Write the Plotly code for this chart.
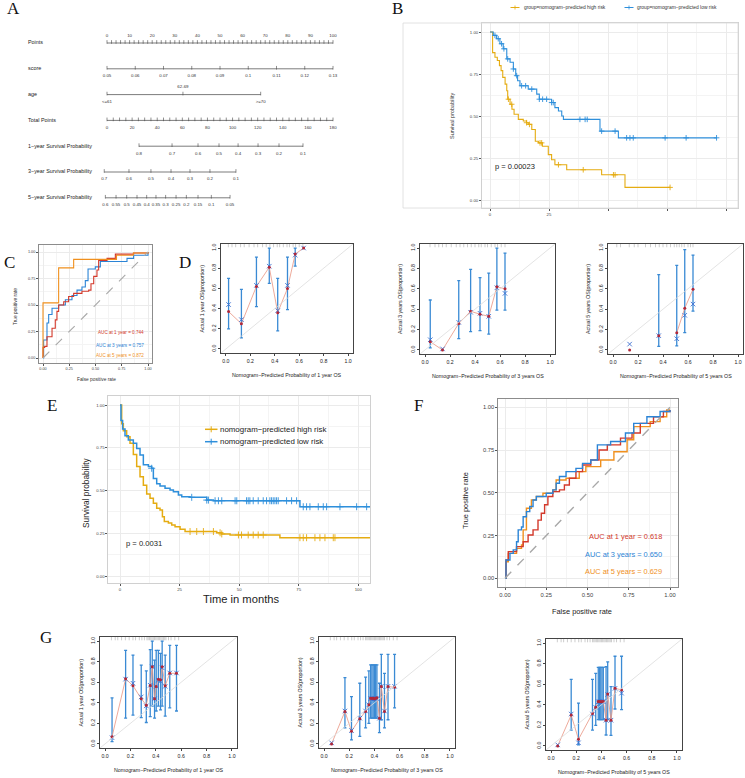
import plotly.graph_objects as go

W, H = 745, 778
FONT = "Liberation Sans, Arial, sans-serif"
SERIF = "Liberation Serif, Times New Roman, serif"
M = "\u2212"

# ====================== DATA ======================
# ---- A: nomogram scales (positions in Points / Total Points) ----
nomo_row_labels = ["Points", "score", "age", "Total Points",
                   "1" + M + "year Survival Probability",
                   "3" + M + "year Survival Probability",
                   "5" + M + "year Survival Probability"]
points_ticks = [0, 10, 20, 30, 40, 50, 60, 70, 80, 90, 100]
score_labels = ["0.05", "0.06", "0.07", "0.08", "0.09", "0.1", "0.11", "0.12", "0.13"]
score_points = [0, 12.5, 25, 37.5, 50, 62.5, 75, 87.5, 100]
age_labels = ["<=61", "62-69", ">=70"]
age_points = [0, 33.6, 68]
total_ticks = [0, 20, 40, 60, 80, 100, 120, 140, 160, 180]
surv1_labels = ["0.8", "0.7", "0.6", "0.5", "0.4", "0.3", "0.2", "0.1"]
surv1_total = [25.5, 51.8, 72.5, 89.2, 104.4, 120.3, 137.0, 156.1]
surv3_labels = ["0.7", "0.6", "0.5", "0.4", "0.3", "0.2", "0.1"]
surv3_total = [-2.2, 17.5, 35.0, 51.0, 66.1, 82.0, 102.7]
surv5_labels = ["0.6", "0.55", "0.5", "0.45", "0.4", "0.35", "0.3", "0.25", "0.2", "0.15", "0.1", "0.05"]
surv5_total = [-1.3, 7.2, 15.7, 23.9, 31.6, 39.0, 46.7, 55.0, 63.2, 72.5, 83.1, 98.0]

# ---- B: Kaplan-Meier (training) ----
b_high_t = [0, 1.1, 2.1, 3.1, 4.0, 4.7, 5.4, 6.4, 7.1, 7.5, 8.5, 9.3, 10.2, 12.0, 14.1, 15.5, 16.2,
            17.7, 19.2, 20.5, 22.2, 24.7, 26.1, 27.5, 32.5, 47.3, 57.2, 76.3]
b_high_s = [1.0, 0.877, 0.85, 0.83, 0.80, 0.77, 0.73, 0.69, 0.65, 0.60, 0.57, 0.54, 0.51, 0.48, 0.47,
            0.46, 0.45, 0.42, 0.35, 0.34, 0.32, 0.27, 0.24, 0.21, 0.18, 0.15, 0.075, 0.075]
b_high_cens = [7.8, 9.2, 15.5, 16.7, 21.2, 21.9, 29.0, 39.5, 52.3, 53.0, 76.3]
b_low_t = [0, 1.4, 2.8, 4.2, 5.6, 7.1, 8.5, 9.9, 10.9, 11.7, 12.7, 16.2, 19.8, 20.9, 26.1, 27.5,
           29.0, 30.4, 31.1, 46.6, 54.4, 96.0]
b_low_s = [1.0, 0.98, 0.96, 0.93, 0.90, 0.84, 0.82, 0.78, 0.74, 0.71, 0.68, 0.66, 0.63, 0.60, 0.58,
           0.55, 0.53, 0.50, 0.48, 0.41, 0.37, 0.37]
b_low_cens = [2.1, 3.5, 4.9, 5.9, 7.5, 9.9, 11.3, 13.4, 15.1, 17.7, 20.9, 22.3, 24.0, 26.1, 26.8,
              38.1, 40.3, 41.2, 47.3, 53.0, 57.9, 59.3, 60.7, 74.2, 83.1, 96.0]

# ---- C: time-dependent ROC (training) ----
c_fpr_1 = [0, 0, 0.016, 0.038, 0.086, 0.117, 0.133, 0.149, 0.197, 0.244, 0.292, 0.371, 0.435, 0.457,
           0.483, 0.514, 0.530, 0.610, 0.689, 0.863, 1.0]
c_tpr_1 = [0, 0.10, 0.11, 0.20, 0.28, 0.36, 0.44, 0.50, 0.53, 0.58, 0.61, 0.63, 0.64, 0.70, 0.77,
           0.83, 0.92, 0.94, 0.98, 0.99, 1.0]
c_fpr_3 = [0, 0.006, 0.038, 0.054, 0.086, 0.149, 0.213, 0.276, 0.324, 0.371, 0.403, 0.429, 0.498,
           0.546, 0.80, 0.863, 1.0]
c_tpr_3 = [0, 0.17, 0.33, 0.41, 0.47, 0.50, 0.55, 0.59, 0.64, 0.67, 0.73, 0.84, 0.86, 0.91, 0.94,
           0.97, 1.0]
c_fpr_5 = [0, 0, 0.149, 0.292, 0.70, 0.86, 1.0]
c_tpr_5 = [0, 0.52, 0.85, 0.93, 0.97, 0.99, 1.0]
c_auc_text = ["AUC at 1 year = 0.744", "AUC at 3 years = 0.757", "AUC at 5 years = 0.872"]

# ---- D: calibration (training) ----
d1_pred = [0.022, 0.127, 0.25, 0.355, 0.424, 0.504, 0.567, 0.636]
d1_obs = [0.37, 0.25, 0.62, 0.81, 0.36, 0.60, 0.94, 1.0]
d1_bc = [0.44, 0.29, 0.63, 0.82, 0.38, 0.63, 0.93, 1.0]
d1_lo = [0.20, 0.11, 0.42, 0.65, 0.18, 0.39, 0.82, None]
d1_hi = [0.70, 0.59, 0.91, 1.0, 0.70, 0.91, 1.0, None]
d1_rug = [0.02, 0.05, 0.08, 0.12, 0.15, 0.19, 0.23, 0.26, 0.30, 0.33, 0.36, 0.39, 0.42, 0.44,
          0.47, 0.50, 0.52, 0.55, 0.57, 0.60, 0.63]

d3_pred = [0.042, 0.14, 0.27, 0.365, 0.44, 0.51, 0.575, 0.64]
d3_obs = [0.08, 0.0, 0.26, 0.38, 0.35, 0.33, 0.62, 0.60]
d3_bc = [0.10, 0.01, 0.27, 0.37, 0.36, 0.33, 0.61, 0.555]
d3_lo = [0.02, None, 0.11, 0.18, 0.19, 0.155, 0.39, 0.39]
d3_hi = [0.49, None, 0.68, 0.79, 0.71, 0.755, 1.0, 0.95]
d3_rug = [0.04, 0.08, 0.11, 0.14, 0.17, 0.21, 0.25, 0.28, 0.31, 0.34, 0.37, 0.40, 0.43, 0.45,
          0.48, 0.50, 0.53, 0.56, 0.58, 0.61, 0.64]

d5_pred = [0.133, 0.366, 0.51, 0.574, 0.64]
d5_obs = [0.0, 0.14, 0.168, 0.41, 0.595]
d5_bc = [0.057, 0.14, 0.11, 0.34, 0.45]
d5_lo = [None, 0.035, 0.04, 0.17, 0.38]
d5_hi = [None, 0.74, 0.83, 0.985, 0.93]
d5_rug = [0.03, 0.06, 0.13, 0.17, 0.20, 0.26, 0.30, 0.34, 0.37, 0.40, 0.43, 0.46, 0.49, 0.51,
          0.53, 0.55, 0.57, 0.60, 0.62, 0.64]

# ---- E: Kaplan-Meier (validation) ----
e_high_t = [0, 0.7, 1.4, 2.8, 4.2, 5.6, 7.0, 8.4, 9.8, 11.2, 12.6, 14.0, 15.4, 16.8, 17.8, 18.6,
            20.3, 21.7, 23.1, 25.2, 27.3, 40.6, 42.7, 46.2, 67.1, 104.9]
e_high_s = [1.0, 0.89, 0.85, 0.815, 0.776, 0.71, 0.64, 0.58, 0.53, 0.48, 0.454, 0.425, 0.396, 0.386,
            0.347, 0.318, 0.31, 0.298, 0.288, 0.273, 0.26, 0.253, 0.246, 0.24, 0.224, 0.224]
e_high_cens = [29.4, 32.2, 35.0, 39.2, 42.0, 42.7, 49.7, 51.0, 53.8, 55.9, 58.0, 60.1, 75.5, 76.9,
               78.3, 81.8, 83.9, 86.0, 89.5, 90.2]
e_low_t = [0, 0.4, 1.1, 2.1, 3.5, 5.6, 7.0, 8.4, 9.8, 11.9, 13.3, 14.0, 15.4, 16.8, 18.9, 21.0,
           22.4, 24.5, 25.9, 29.4, 36.4, 39.2, 75.5, 104.9]
e_low_s = [1.0, 0.91, 0.86, 0.82, 0.795, 0.776, 0.746, 0.708, 0.65, 0.64, 0.63, 0.57, 0.54, 0.526,
           0.513, 0.503, 0.493, 0.474, 0.464, 0.46, 0.444, 0.44, 0.405, 0.405]
e_low_cens = [13.3, 30.1, 36.4, 37.1, 39.9, 41.3, 42.7, 48.3, 49.0, 53.1, 53.8, 54.5, 55.9, 58.0,
              60.1, 61.5, 62.9, 63.6, 64.3, 65.0, 65.7, 66.4, 69.9, 72.0, 74.1, 76.9, 78.3, 79.7,
              83.2, 85.3, 86.7, 92.3, 99.3, 103.5]

# ---- F: time-dependent ROC (validation) ----
f_fpr_1 = [0, 0.006, 0.02, 0.07, 0.11, 0.14, 0.17, 0.20, 0.22, 0.24, 0.26, 0.29, 0.33, 0.36, 0.39,
           0.43, 0.47, 0.52, 0.57, 0.62, 0.70, 0.77, 0.82, 0.90, 0.96, 1.0]
f_tpr_1 = [0, 0.107, 0.156, 0.185, 0.214, 0.253, 0.283, 0.34, 0.38, 0.43, 0.478, 0.507, 0.517, 0.546,
           0.585, 0.624, 0.663, 0.692, 0.75, 0.78, 0.82, 0.85, 0.906, 0.945, 0.975, 0.984]
f_fpr_3 = [0, 0.006, 0.03, 0.05, 0.07, 0.08, 0.10, 0.11, 0.13, 0.15, 0.17, 0.19, 0.25, 0.29, 0.31,
           0.33, 0.37, 0.43, 0.47, 0.52, 0.56, 0.64, 0.73, 0.78, 0.86, 0.94, 1.0]
f_tpr_3 = [0, 0.107, 0.146, 0.166, 0.214, 0.283, 0.30, 0.36, 0.39, 0.42, 0.458, 0.478, 0.497, 0.517,
           0.556, 0.595, 0.624, 0.643, 0.672, 0.692, 0.78, 0.80, 0.85, 0.906, 0.945, 0.975, 0.984]
f_fpr_5 = [0, 0.006, 0.02, 0.07, 0.10, 0.11, 0.13, 0.16, 0.19, 0.23, 0.29, 0.31, 0.37, 0.45, 0.49,
           0.58, 0.66, 0.74, 0.78, 0.88, 0.94, 0.98, 1.0]
f_tpr_5 = [0, 0.097, 0.146, 0.175, 0.195, 0.283, 0.41, 0.458, 0.478, 0.497, 0.517, 0.575, 0.585,
           0.624, 0.653, 0.692, 0.74, 0.81, 0.887, 0.916, 0.945, 0.984, 0.984]
f_auc_text = ["AUC at 1 year = 0.618", "AUC at 3 years = 0.650", "AUC at 5 years = 0.629"]

# ---- G: calibration (validation) ----
g1_pred = [0.055, 0.162, 0.22, 0.285, 0.325, 0.356, 0.372, 0.39, 0.403, 0.42, 0.437, 0.45, 0.474, 0.51, 0.563]
g1_obs = [0.07, 0.633, 0.566, 0.44, 0.377, 0.569, 0.75, 0.438, 0.559, 0.63, 0.623, 0.75, 0.566, 0.687, 0.687]
g1_bc = [0.06, 0.63, 0.59, 0.457, 0.37, 0.57, 0.75, 0.44, 0.56, 0.62, 0.61, 0.74, 0.56, 0.69, 0.69]
g1_lo = [0.022, 0.25, 0.28, 0.256, 0.208, 0.265, 0.367, 0.25, 0.32, 0.367, 0.33, 0.367, 0.27, 0.35, 0.32]
g1_hi = [0.447, 0.91, 0.863, 0.767, 0.71, 0.917, 1.0, 0.815, 0.91, 0.91, 0.88, 1.0, 0.863, 0.958, 0.958]
g1_rug = [0.05, 0.08, 0.10, 0.13, 0.16, 0.19, 0.22, 0.24, 0.27, 0.29, 0.31, 0.33, 0.34, 0.35, 0.36,
          0.37, 0.38, 0.39, 0.40, 0.41, 0.42, 0.43, 0.44, 0.45, 0.46, 0.47, 0.48, 0.50, 0.52, 0.55, 0.58]

g3_pred = [0.06, 0.166, 0.218, 0.284, 0.33, 0.356, 0.37, 0.38, 0.39, 0.40, 0.41, 0.42, 0.44, 0.455, 0.48, 0.508, 0.56]
g3_obs = [0.0, 0.316, 0.123, 0.245, 0.316, 0.38, 0.445, 0.445, 0.445, 0.44, 0.445, 0.45, 0.25, 0.558, 0.316, 0.558, 0.55]
g3_bc = [0.01, 0.32, 0.13, 0.25, 0.32, 0.38, 0.44, 0.44, 0.44, 0.44, 0.44, 0.44, 0.25, 0.56, 0.32, 0.56, 0.56]
g3_lo = [None, 0.155, 0.04, 0.074, 0.155, 0.2, 0.25, 0.25, 0.25, 0.25, 0.25, 0.25, 0.11, 0.235, 0.155, 0.235, 0.35]
g3_hi = [None, 0.645, 0.46, 0.59, 0.65, 0.71, 0.768, 0.768, 0.768, 0.768, 0.768, 0.768, 0.59, 0.87, 0.687, 0.87, 0.87]
g3_rug = g1_rug

g5_pred = [0.053, 0.16, 0.218, 0.329, 0.355, 0.375, 0.385, 0.395, 0.405, 0.415, 0.437, 0.45, 0.476, 0.508, 0.56]
g5_obs = [0.0, 0.30, 0.064, 0.314, 0.375, 0.433, 0.433, 0.43, 0.433, 0.433, 0.25, 0.506, 0.25, 0.56, 0.545]
g5_bc = [0.01, 0.31, 0.03, 0.31, 0.375, 0.43, 0.43, 0.43, 0.43, 0.43, 0.25, 0.50, 0.25, 0.56, 0.513]
g5_lo = [None, 0.154, 0.01, 0.154, 0.2, 0.256, 0.256, 0.256, 0.256, 0.256, 0.106, 0.256, 0.103, 0.359, 0.353]
g5_hi = [None, 0.647, 0.417, 0.647, 0.705, 0.763, 0.763, 0.763, 0.763, 0.763, 0.77, 0.817, 0.577, 0.872, 0.872]
g5_rug = g1_rug

# ====================== STYLE ======================
GOLD = "#E5AC12"
KMBLUE = "#2E8FDB"
ROC_RED = "#D3392B"
ROC_BLUE = "#2B84D6"
ROC_ORANGE = "#F0901E"
CAL_BLUE = "#3A8AD4"
CAL_RED = "#B0283A"
CAL_LINE = "#E89482"

fig = go.Figure()
axes = {}
shapes = []
annotations = []
counter = [0]


def P(xpx, ypx):
    return xpx / W, 1 - ypx / H


def new_axes(box, xr, yr, xs=None, ys=None):
    counter[0] += 1
    s = "" if counter[0] == 1 else str(counter[0])
    l, t, r, b = box
    xd = dict(domain=[l / W, r / W], range=xr, anchor="y" + s, zeroline=False, fixedrange=True)
    yd = dict(domain=[1 - b / H, 1 - t / H], range=yr, anchor="x" + s, zeroline=False, fixedrange=True)
    xd.update(xs or {})
    yd.update(ys or {})
    axes["xaxis" + s] = xd
    axes["yaxis" + s] = yd
    return "x" + s, "y" + s


def text(xpx, ypx, s, size, color="#222", xanchor="center", angle=0, family=FONT):
    x, y = P(xpx, ypx)
    annotations.append(dict(x=x, y=y, xref="paper", yref="paper", text=s, showarrow=False,
                            xanchor=xanchor, yanchor="middle", textangle=angle, borderpad=0,
                            font=dict(size=size, color=color, family=family)))


def hline(x0, y0, x1, y1, color, width=1, dash=None):
    a, b = P(x0, y0)
    c, d = P(x1, y1)
    ln = dict(color=color, width=width)
    if dash:
        ln["dash"] = dash
    shapes.append(dict(type="line", xref="paper", yref="paper", x0=a, y0=b, x1=c, y1=d, line=ln))


HIDDEN = dict(visible=False, showgrid=False)

# ====================== PANEL LETTERS ======================
for letter, xp, yp in [("A", 14, 9), ("B", 397, 9), ("C", 9, 262), ("D", 185, 262),
                       ("E", 52, 405), ("F", 418, 405), ("G", 46, 637)]:
    text(xp, yp, letter, 17, "#111", family=SERIF)

# ====================== A: NOMOGRAM ======================
PX_PER_PT = 2.26
NL = 107
ROW0, ROWSTEP = 43, 25.8
xa, ya = new_axes((0, 0, 380, 230), [-NL / PX_PER_PT, (380 - NL) / PX_PER_PT],
                  [(230 - ROW0) / ROWSTEP, -ROW0 / ROWSTEP], HIDDEN, HIDDEN)


def scale_row(row, pos, labels, sides, minor=()):
    fig.add_trace(go.Scatter(x=[min(pos), max(pos)], y=[row, row], mode="lines",
                             line=dict(color="#444", width=0.7), xaxis=xa, yaxis=ya, hoverinfo="skip"))
    fig.add_trace(go.Scatter(x=list(pos) + list(minor), y=[row - 0.04] * (len(pos) + len(minor)),
                             mode="markers", marker=dict(symbol="line-ns", size=2.6, line=dict(width=0.6, color="#444")),
                             xaxis=xa, yaxis=ya, hoverinfo="skip"))
    fig.add_trace(go.Scatter(x=list(pos), y=[row + 0.28 * s for s in sides], mode="text", text=labels,
                             textfont=dict(size=4.4, family=FONT, color="#333"),
                             xaxis=xa, yaxis=ya, hoverinfo="skip"))


scale_row(0, points_ticks, [str(v) for v in points_ticks], [-1] * len(points_ticks),
          minor=[v for v in range(0, 101, 2) if v % 10])
scale_row(1, score_points, score_labels, [1] * len(score_points))
scale_row(2, age_points, age_labels, [1, -1, 1])
scale_row(3, [v / 1.8 for v in total_ticks], [str(v) for v in total_ticks], [1] * len(total_ticks),
          minor=[v / 1.8 for v in range(0, 181, 5) if v % 20])
scale_row(4, [v / 1.8 for v in surv1_total], surv1_labels, [1] * len(surv1_total))
scale_row(5, [v / 1.8 for v in surv3_total], surv3_labels, [1] * len(surv3_total))
scale_row(6, [v / 1.8 for v in surv5_total], surv5_labels, [1] * len(surv5_total))
fig.add_trace(go.Scatter(x=[(28 - NL) / PX_PER_PT] * 7, y=list(range(7)), mode="text",
                         text=nomo_row_labels, textposition="middle right",
                         textfont=dict(size=5.4, family=FONT, color="#222"),
                         xaxis=xa, yaxis=ya, hoverinfo="skip"))


# ====================== KM helper ======================
def surv_at(times, surv, t):
    v = surv[0]
    for ti, si in zip(times, surv):
        if ti <= t:
            v = si
    return v


def gg_axis(tickvals, ticktext, minor_vals, border, fsize, grid="#EBEBEB"):
    return dict(tickmode="array", tickvals=tickvals, ticktext=ticktext,
                showgrid=True, gridcolor=grid, gridwidth=0.7,
                minor=dict(tickmode="array", tickvals=minor_vals, showgrid=True, gridcolor="#F4F4F4", gridwidth=0.5, ticks=""),
                showline=True, mirror=True, linecolor=border, linewidth=0.8,
                ticks="outside", ticklen=2, tickcolor="#555", tickwidth=0.6,
                tickfont=dict(size=fsize, color="#444", family=FONT))


def km(xa_, ya_, t, s, cens, color, lw, msize):
    fig.add_trace(go.Scatter(x=t, y=s, mode="lines", line=dict(color=color, width=lw, shape="hv"),
                             xaxis=xa_, yaxis=ya_, hoverinfo="skip"))
    fig.add_trace(go.Scatter(x=cens, y=[surv_at(t, s, c) for c in cens], mode="markers",
                             marker=dict(symbol="cross-thin", size=msize, line=dict(width=0.9, color=color)),
                             xaxis=xa_, yaxis=ya_, hoverinfo="skip"))


# ====================== B ======================
x0, pu = 490, 2.36
y0, pv = 200, 168
bbox = (482, 23, 738, 208)
xb, yb = new_axes(bbox, [(bbox[0] - x0) / pu, (bbox[2] - x0) / pu], [(y0 - bbox[3]) / pv, (y0 - bbox[1]) / pv],
                  gg_axis([0, 25, 50, 75, 100], ["0", "25", "", "", ""], [12.5, 37.5, 62.5, 87.5], "#D0D0D0", 4.3),
                  gg_axis([0, 0.25, 0.5, 0.75, 1.0], ["0.00", "0.25", "0.50", "0.75", "1.00"],
                          [0.125, 0.375, 0.625, 0.875], "#D0D0D0", 4.3))
km(xb, yb, b_high_t, b_high_s, b_high_cens, GOLD, 1.1, 4)
km(xb, yb, b_low_t, b_low_s, b_low_cens, KMBLUE, 1.1, 4)
text(452, 116, "Survival probability", 5.5, "#333", angle=-90)
text(494, 167, "p = 0.00023", 7.5, "#222", xanchor="left")
a, b_ = P(403, 23)
c, d = P(738, 208)
shapes.append(dict(type="rect", xref="paper", yref="paper", x0=a, y0=b_, x1=c, y1=d,
                   line=dict(color="#DADADA", width=0.8)))
# legend
hline(510.5, 7.5, 519.5, 7.5, GOLD, 1)
hline(515, 5.5, 515, 9.5, GOLD, 0.8)
text(522.5, 7.5, "group=nomogram" + M + "predicted high risk", 4.9, "#333", xanchor="left")
hline(624.5, 7.5, 633.5, 7.5, KMBLUE, 1)
hline(629, 5.5, 629, 9.5, KMBLUE, 0.8)
text(636, 7.5, "group=nomogram" + M + "predicted low risk", 4.9, "#333", xanchor="left")


# ====================== ROC helper ======================
def roc(xa_, ya_, curves, lw):
    shapes.append(dict(type="line", xref=xa_, yref=ya_, x0=0, y0=0, x1=1, y1=1,
                       line=dict(color="#A8A8A8", width=lw, dash="dash")))
    for fx, ty, col in curves:
        fig.add_trace(go.Scatter(x=fx, y=ty, mode="lines", line=dict(color=col, width=lw, shape="hv"),
                                 xaxis=xa_, yaxis=ya_, hoverinfo="skip"))


ROC_TV = [0, 0.25, 0.5, 0.75, 1.0]
ROC_TT = ["0.00", "0.25", "0.50", "0.75", "1.00"]
ROC_MV = [0.125, 0.375, 0.625, 0.875]

# ====================== C ======================
cbox = (39, 245, 152, 363)
cx0, cxu, cy0, cyu = 43, 105, 358, 106
xc, yc = new_axes(cbox, [(cbox[0] - cx0) / cxu, (cbox[2] - cx0) / cxu], [(cy0 - cbox[3]) / cyu, (cy0 - cbox[1]) / cyu],
                  gg_axis(ROC_TV, ROC_TT, ROC_MV, "#8C8C8C", 3.8), gg_axis(ROC_TV, ROC_TT, ROC_MV, "#8C8C8C", 3.8))
roc(xc, yc, [(c_fpr_3, c_tpr_3, ROC_BLUE), (c_fpr_1, c_tpr_1, ROC_RED), (c_fpr_5, c_tpr_5, ROC_ORANGE)], 1.1)
text(15, 306, "True positive rate", 4.8, "#333", angle=-90)
text(97, 380, "False positive rate", 4.8, "#333")
for s_, col, yy in zip(c_auc_text, [ROC_RED, ROC_BLUE, ROC_ORANGE], [333, 345, 355]):
    text(145, yy, s_, 4.6, col, xanchor="right")


# ====================== calibration helper ======================
CAL_TV = [0, 0.2, 0.4, 0.6, 0.8, 1.0]
CAL_TT = ["0.0", "0.2", "0.4", "0.6", "0.8", "1.0"]


def cal_axis(angle=0):
    d = dict(tickmode="array", tickvals=CAL_TV, ticktext=CAL_TT, showgrid=False,
             showline=True, mirror=True, linecolor="#444", linewidth=0.8,
             ticks="outside", ticklen=2.5, tickcolor="#444", tickwidth=0.6,
             tickfont=dict(size=5.2, color="#222", family=FONT))
    if angle:
        d["tickangle"] = angle
    return d


def calib(box, pred, obs, bc, lo, hi, rug, ylab, xlab, line_start=0):
    xa_, ya_ = new_axes(box, [-0.04, 1.04], [-0.04, 1.04], cal_axis(), cal_axis(-90))
    shapes.append(dict(type="line", xref=xa_, yref=ya_, x0=-0.04, y0=-0.04, x1=1.04, y1=1.04,
                       line=dict(color="#DCDCDC", width=0.8)))
    fig.add_trace(go.Scatter(x=rug, y=[1.025] * len(rug), mode="markers",
                             marker=dict(symbol="line-ns", size=2.5, line=dict(width=0.5, color="#9A9A9A")),
                             xaxis=xa_, yaxis=ya_, hoverinfo="skip", cliponaxis=False))
    idx = [i for i in range(len(pred)) if lo[i] is not None]
    fig.add_trace(go.Scatter(x=[pred[i] for i in idx], y=[obs[i] for i in idx], mode="markers",
                             marker=dict(size=1, color="rgba(0,0,0,0)"),
                             error_y=dict(type="data", symmetric=False,
                                          array=[hi[i] - obs[i] for i in idx],
                                          arrayminus=[obs[i] - lo[i] for i in idx],
                                          color=CAL_BLUE, thickness=1.3, width=1.5),
                             xaxis=xa_, yaxis=ya_, hoverinfo="skip", cliponaxis=False))
    fig.add_trace(go.Scatter(x=pred[line_start:], y=obs[line_start:], mode="lines",
                             line=dict(color=CAL_LINE, width=0.8), xaxis=xa_, yaxis=ya_, hoverinfo="skip"))
    fig.add_trace(go.Scatter(x=pred, y=bc, mode="markers",
                             marker=dict(symbol="x-thin", size=4.5, line=dict(width=0.9, color="#3D6FD0")),
                             xaxis=xa_, yaxis=ya_, hoverinfo="skip", cliponaxis=False))
    fig.add_trace(go.Scatter(x=pred, y=obs, mode="markers",
                             marker=dict(symbol="circle", size=3, color=CAL_RED),
                             xaxis=xa_, yaxis=ya_, hoverinfo="skip", cliponaxis=False))
    l, t, r, b = box
    text(l - 20, (t + b) / 2, ylab, 5.3, "#222", angle=-90)
    text((l + r) / 2, b + 21.5, xlab, 5.3, "#222")


NP = "Nomogram" + M + "Predicted Probability of "
calib((221, 244, 353, 353), d1_pred, d1_obs, d1_bc, d1_lo, d1_hi, d1_rug,
      "Actual 1 year OS(proportion)", NP + "1 year OS")
calib((420, 244, 555, 354), d3_pred, d3_obs, d3_bc, d3_lo, d3_hi, d3_rug,
      "Actual 3 years OS(proportion)", NP + "3 years OS")
calib((608, 244, 743, 354), d5_pred, d5_obs, d5_bc, d5_lo, d5_hi, d5_rug,
      "Actual 5 years OS(proportion)", NP + "5 years OS", line_start=2)

# ====================== E ======================
ebox = (108.3, 396, 370, 583.3)
ex0, exu, ey0, eyu = 120, 2.383, 576, 171
xe, ye = new_axes(ebox, [(ebox[0] - ex0) / exu, (ebox[2] - ex0) / exu], [(ey0 - ebox[3]) / eyu, (ey0 - ebox[1]) / eyu],
                  gg_axis([0, 25, 50, 75, 100], ["0", "25", "50", "75", "100"], [12.5, 37.5, 62.5, 87.5], "#D0D0D0", 4.3),
                  gg_axis([0, 0.25, 0.5, 0.75, 1.0], ["0.00", "0.25", "0.50", "0.75", "1.00"],
                          [0.125, 0.375, 0.625, 0.875], "#D0D0D0", 4.3))
km(xe, ye, e_high_t, e_high_s, e_high_cens, GOLD, 1.5, 5)
km(xe, ye, e_low_t, e_low_s, e_low_cens, KMBLUE, 1.5, 5)
text(86, 493, "Survival probability", 8.3, "#222", angle=-90)
text(241, 599, "Time in months", 11.2, "#222")
text(125, 543, "p = 0.0031", 7.6, "#222", xanchor="left")
for lab, col, yy in [("nomogram" + M + "predicted high risk", GOLD, 429.3),
                     ("nomogram" + M + "predicted low risk", KMBLUE, 441.7)]:
    hline(205, yy, 217.5, yy, col, 1.5)
    hline(211.2, yy - 3, 211.2, yy + 3, col, 1)
    text(218.5, yy, lab, 7.9, "#222", xanchor="left")

# ====================== F ======================
fbox = (498.3, 399.3, 677.7, 587.3)
fx0, fxu, fy0, fyu = 505, 165, 578.3, 171
xf, yf = new_axes(fbox, [(fbox[0] - fx0) / fxu, (fbox[2] - fx0) / fxu], [(fy0 - fbox[3]) / fyu, (fy0 - fbox[1]) / fyu],
                  gg_axis(ROC_TV, ROC_TT, ROC_MV, "#8C8C8C", 5.8), gg_axis(ROC_TV, ROC_TT, ROC_MV, "#8C8C8C", 5.8))
roc(xf, yf, [(f_fpr_5, f_tpr_5, ROC_ORANGE), (f_fpr_1, f_tpr_1, ROC_RED), (f_fpr_3, f_tpr_3, ROC_BLUE)], 1.4)
text(465, 501, "True positive rate", 7.4, "#222", angle=-90)
text(582, 611, "False positive rate", 7.4, "#222")
for s_, col, yy in zip(f_auc_text, [ROC_RED, ROC_BLUE, ROC_ORANGE], [536.7, 554, 571.7]):
    text(663, yy, s_, 7.4, col, xanchor="right")

# ====================== G ======================
calib((100, 637, 237, 748), g1_pred, g1_obs, g1_bc, g1_lo, g1_hi, g1_rug,
      "Actual 1 year OS(proportion)", NP + "1 year OS")
calib((319, 637, 455, 748), g3_pred, g3_obs, g3_bc, g3_lo, g3_hi, g3_rug,
      "Actual 3 years OS(proportion)", NP + "3 years OS")
calib((546, 639, 682, 750), g5_pred, g5_obs, g5_bc, g5_lo, g5_hi, g5_rug,
      "Actual 5 years OS(proportion)", NP + "5 years OS")

fig.update_layout(width=W, height=H, margin=dict(l=0, r=0, t=0, b=0), showlegend=False,
                  paper_bgcolor="white", plot_bgcolor="white", hovermode=False,
                  font=dict(family=FONT), shapes=shapes, annotations=annotations, **axes)
fig.write_html("out.html", config={"displayModeBar": False})
